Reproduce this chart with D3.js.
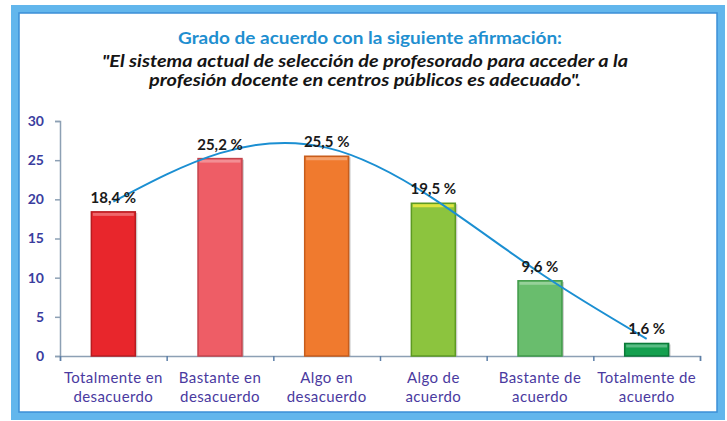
<!DOCTYPE html>
<html>
<head>
<meta charset="utf-8">
<script src="https://cdn.jsdelivr.net/npm/d3@7"></script>
<style>
  html, body { margin: 0; padding: 0; background: #fff; }
  #chart { width: 727px; height: 421px; }
</style>
</head>
<body>
<div id="chart"></div>
<script>
// chart data
const categories = [
    ["Totalmente en", "desacuerdo"],
    ["Bastante en", "desacuerdo"],
    ["Algo en", "desacuerdo"],
    ["Algo de", "acuerdo"],
    ["Bastante de", "acuerdo"],
    ["Totalmente de", "acuerdo"]
];
const values = [18.4, 25.2, 25.5, 19.5, 9.6, 1.6];
// trend curve, one point per category
const trendValues = [19.7, 25.9, 26.6, 20.1, 10.6, 2.2];
const yTicks = [0, 5, 10, 15, 20, 25, 30];
const barColors = ["#e8262c", "#ee5d66", "#f07a2e", "#8cc43e", "#69bd6d", "#14a04f"];
const barEdges = ["#b81c20", "#c4444c", "#c75d1c", "#5e9a22", "#3f9a48", "#0b7a38"];
const titleLines = [
    "Grado de acuerdo con la siguiente afirmación:",
    "\"El sistema actual de selección de profesorado  para acceder a la",
    "profesión docente en centros públicos es adecuado\"."
];

const W = 727, H = 421;
let margin = { top: 121, right: 27, bottom: 65, left: 60 },
    width = W - margin.left - margin.right,
    height = H - margin.top - margin.bottom;

const fmt = d3.formatLocale({ decimal: ",", thousands: ".", grouping: [3], currency: ["", "€"] }).format(".1f");

let svg = d3.select("#chart")
    .append("svg")
    .attr("width", W)
    .attr("height", H);

// frame
svg.append("rect")
    .attr("x", 15).attr("y", 9)
    .attr("width", 706).attr("height", 407)
    .attr("fill", "#fff")
    .attr("stroke", "#62b6ec")
    .attr("stroke-width", 8);
svg.append("rect")
    .attr("x", 19).attr("y", 13)
    .attr("width", 698).attr("height", 399)
    .attr("fill", "none")
    .attr("stroke", "#3b8fd6")
    .attr("stroke-width", 1.5);

// title
const titleY = [44, 67, 86];
const titleW = [384, 526, 432];
svg.selectAll(".title")
    .data(titleLines)
    .enter()
    .append("text")
    .attr("class", "title")
    .attr("x", (d, i) => i == 0 ? 370 : 365)
    .attr("y", (d, i) => titleY[i])
    .attr("text-anchor", "middle")
    .attr("textLength", (d, i) => titleW[i])
    .attr("lengthAdjust", "spacingAndGlyphs")
    .style("font-family", "Lato, 'Open Sans', sans-serif")
    .style("font-weight", "bold")
    .style("font-style", (d, i) => i == 0 ? "normal" : "italic")
    .style("font-size", (d, i) => i == 0 ? "17px" : "17px")
    .style("fill", (d, i) => i == 0 ? "#1f8fd0" : "#151515")
    .text(d => d);

let g = svg.append("g")
    .attr("transform", "translate(" + margin.left + "," + margin.top + ")");

let x = d3.scaleBand()
    .domain(d3.range(categories.length))
    .range([0, width])
    .paddingInner(0.588)
    .paddingOuter(0.294);

let y = d3.scaleLinear()
    .domain([0, 30])
    .range([height, 0]);

// Y axis
let yAxis = g.append("g")
    .call(d3.axisLeft(y).tickValues(yTicks).tickSize(5).tickPadding(11));
yAxis.select(".domain").attr("stroke", "#8da0b4").attr("stroke-width", 1.5);
yAxis.selectAll(".tick line").attr("stroke", "#8da0b4").attr("stroke-width", 1.5);
yAxis.selectAll(".tick text")
    .style("font-family", "Lato, 'Open Sans', sans-serif")
    .style("font-weight", "bold")
    .style("font-size", "14px")
    .style("fill", "#3a3d9e");

// X axis with ticks between categories
let xEdges = d3.scaleLinear().domain([0, categories.length]).range([0, width]);
let xAxis = g.append("g")
    .attr("transform", "translate(0," + height + ")")
    .call(d3.axisBottom(xEdges).tickValues(d3.range(categories.length + 1)).tickSize(5).tickFormat(""));
xAxis.select(".domain").attr("stroke", "#8da0b4").attr("stroke-width", 1.5);
xAxis.selectAll(".tick line").attr("stroke", "#5c7fa8").attr("stroke-width", 1.5);

// bar shadows
g.selectAll(".shadow")
    .data(values)
    .enter()
    .append("rect")
    .attr("class", "shadow")
    .attr("x", (d, i) => x(i) + 2)
    .attr("y", d => y(d) + 1)
    .attr("width", x.bandwidth())
    .attr("height", d => height - y(d) - 1)
    .attr("fill", "#000")
    .attr("opacity", 0.18);

// bars
g.selectAll(".bar")
    .data(values)
    .enter()
    .append("rect")
    .attr("class", "bar")
    .attr("x", (d, i) => x(i))
    .attr("y", d => y(d))
    .attr("width", x.bandwidth())
    .attr("height", d => height - y(d))
    .attr("fill", (d, i) => barColors[i])
    .attr("stroke", (d, i) => barEdges[i])
    .attr("stroke-width", 1.5);

// light top strip on each bar
g.selectAll(".bartop")
    .data(values)
    .enter()
    .append("rect")
    .attr("class", "bartop")
    .attr("x", (d, i) => x(i) + 1.5)
    .attr("y", d => y(d) + 1)
    .attr("width", x.bandwidth() - 3)
    .attr("height", 3)
    .attr("fill", (d, i) => i == 3 ? "#e8e840" : "#fff")
    .attr("opacity", (d, i) => i == 3 ? 0.9 : 0.3);

// trend curve
let line = d3.line()
    .x((d, i) => x(i) + x.bandwidth() / 2)
    .y(d => y(d))
    .curve(d3.curveNatural);
g.append("path")
    .datum(trendValues)
    .attr("d", line)
    .attr("fill", "none")
    .attr("stroke", "#1b8fd2")
    .attr("stroke-width", 2);

// value labels
g.selectAll(".vlabel")
    .data(values)
    .enter()
    .append("text")
    .attr("class", "vlabel")
    .attr("x", (d, i) => x(i) + x.bandwidth() / 2)
    .attr("y", d => y(d) - 9)
    .attr("text-anchor", "middle")
    .style("font-family", "Lato, 'Open Sans', sans-serif")
    .style("font-weight", "bold")
    .style("font-size", "15px")
    .style("fill", "#1a1a1a")
    .text(d => fmt(d) + " %");

// category labels
let cat = g.selectAll(".cat")
    .data(categories)
    .enter()
    .append("text")
    .attr("class", "cat")
    .attr("text-anchor", "middle")
    .attr("transform", (d, i) => "translate(" + (x(i) + x.bandwidth() / 2) + "," + (height + 27) + ")")
    .style("font-family", "Lato, 'Open Sans', sans-serif")
    .style("font-size", "15px")
    .style("letter-spacing", "0.4px")
    .style("fill", "#4a3aa0");
cat.selectAll("tspan")
    .data(d => d)
    .enter()
    .append("tspan")
    .attr("x", 0)
    .attr("dy", (d, i) => i == 0 ? 0 : 19)
    .text(d => d);
</script>
</body>
</html>
